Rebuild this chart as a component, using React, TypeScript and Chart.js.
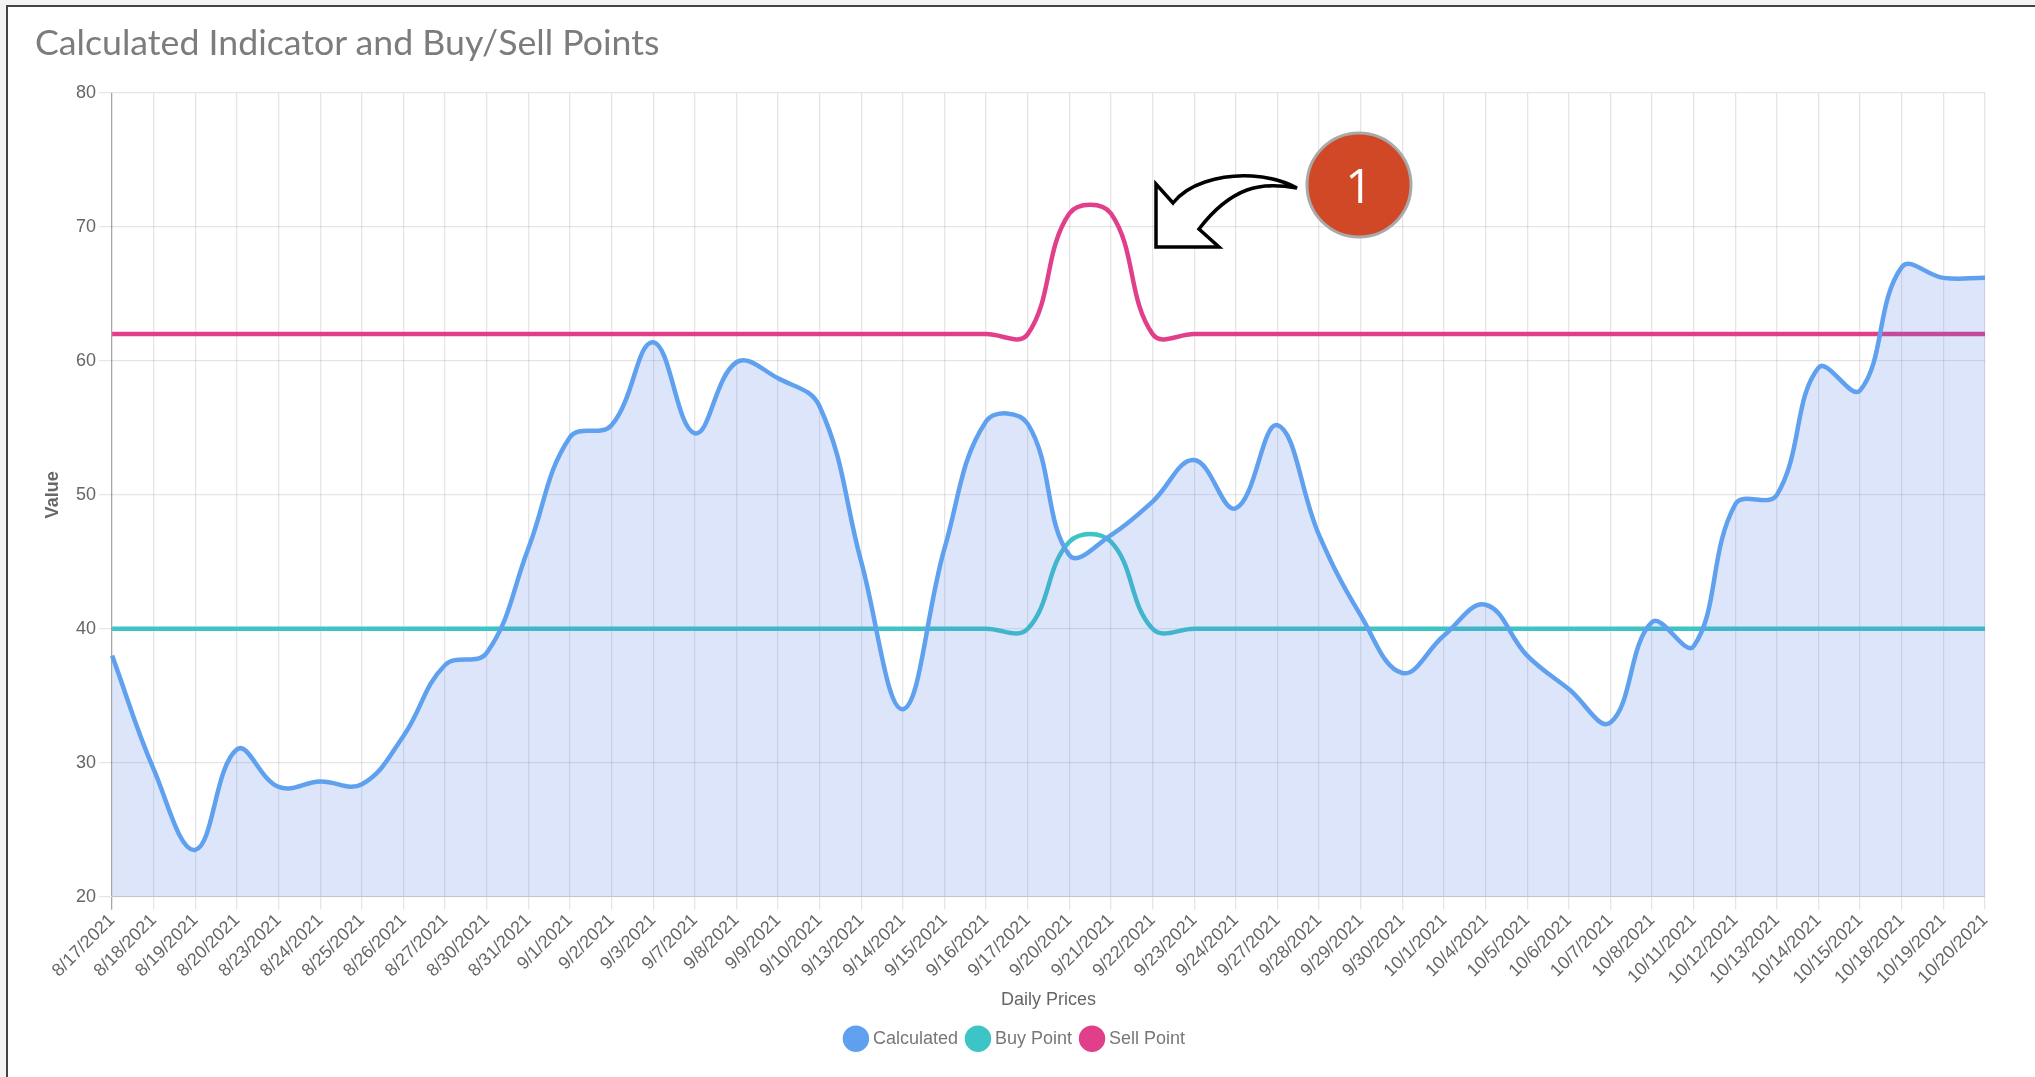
import React, { useEffect, useRef } from "react";
import { Chart, registerables } from "chart.js";

Chart.register(...registerables);

const labels = ["8/17/2021","8/18/2021","8/19/2021","8/20/2021","8/23/2021","8/24/2021","8/25/2021","8/26/2021","8/27/2021","8/30/2021","8/31/2021","9/1/2021","9/2/2021","9/3/2021","9/7/2021","9/8/2021","9/9/2021","9/10/2021","9/13/2021","9/14/2021","9/15/2021","9/16/2021","9/17/2021","9/20/2021","9/21/2021","9/22/2021","9/23/2021","9/24/2021","9/27/2021","9/28/2021","9/29/2021","9/30/2021","10/1/2021","10/4/2021","10/5/2021","10/6/2021","10/7/2021","10/8/2021","10/11/2021","10/12/2021","10/13/2021","10/14/2021","10/15/2021","10/18/2021","10/19/2021","10/20/2021"];
const calculated = [38,29.5,23.5,31,28.2,28.6,28.4,32,37.3,38.2,46,54.3,55.2,61.4,54.6,59.9,58.7,56.6,45,34,46,55.5,55.3,45.5,47,49.5,52.6,49,55.2,47,41,36.7,39.5,41.8,38,35.5,33,40.5,38.7,49.3,50,59.5,57.8,67,66.2,66.2];
const buyPoint = [40,40,40,40,40,40,40,40,40,40,40,40,40,40,40,40,40,40,40,40,40,40,40,46.5,46.5,40,40,40,40,40,40,40,40,40,40,40,40,40,40,40,40,40,40,40,40,40];
const sellPoint = [62,62,62,62,62,62,62,62,62,62,62,62,62,62,62,62,62,62,62,62,62,62,62,71,71,62,62,62,62,62,62,62,62,62,62,62,62,62,62,62,62,62,62,62,62,62];

const TEXT = "#666666";
const FONT = "'Liberation Sans', Arial, sans-serif";

const nudgeLegend = {
  id: "nudgeLegend",
  afterLayout(chart: any) {
    if (chart.legend) {
      chart.legend.left += 3;
      chart.legend.right += 3;
    }
  },
};

export default function App() {
  const ref = useRef<HTMLCanvasElement | null>(null);
  useEffect(() => {
    if (!ref.current) return;
    const chart = new Chart(ref.current, {
      type: "line",
      plugins: [nudgeLegend],
      data: {
        labels,
        datasets: [
          { label: "Calculated", data: calculated, borderColor: "#5fa1ee", backgroundColor: "#5fa1ee", fill: { target: "origin", above: "rgba(80,125,225,0.2)" }, borderWidth: 4.5, pointRadius: 0, tension: 0.4 },
          { label: "Buy Point", data: buyPoint, borderColor: "#3cc4c6", backgroundColor: "#3cc4c6", fill: false, borderWidth: 4.5, pointRadius: 0, tension: 0.4 },
          { label: "Sell Point", data: sellPoint, borderColor: "#e23f8a", backgroundColor: "#e23f8a", fill: false, borderWidth: 4.5, pointRadius: 0, tension: 0.4 },
        ],
      },
      options: {
        responsive: false,
        animation: false,
        layout: { padding: { left: 42, right: 50, top: 93, bottom: 19.3 } },
        plugins: {
          tooltip: { enabled: false },
          legend: {
            position: "bottom",
            labels: { usePointStyle: true, pointStyle: "circle", boxHeight: 15.5, boxWidth: 16, color: "#777", font: { family: FONT, size: 18 }, padding: 12 },
          },
        },
        scales: {
          x: {
            grid: { color: (c: any) => (c.index === 0 ? "rgba(0,0,0,0.35)" : "rgba(0,0,0,0.1)"), lineWidth: 1.3, tickLength: 13 },
            border: { display: true, color: "rgba(0,0,0,0.12)" },
            ticks: { color: TEXT, font: { family: FONT, size: 18 }, maxRotation: 45, minRotation: 45, autoSkip: false, padding: 0 },
            title: { display: true, text: "Daily Prices", color: TEXT, font: { family: FONT, size: 18 }, padding: { top: 0.4, bottom: 7 } },
          },
          y: {
            min: 20,
            max: 80,
            grid: { color: "rgba(0,0,0,0.1)", lineWidth: 1.3, tickLength: 13 },
            border: { display: false },
            ticks: { color: TEXT, font: { family: FONT, size: 18 }, stepSize: 10, padding: 3 },
            title: { display: true, text: "Value", color: TEXT, font: { family: FONT, size: 18, weight: "bold" }, padding: { top: 0, bottom: 9.5 } },
          },
        },
      },
    } as any);
    return () => chart.destroy();
  }, []);

  return (
    <div style={{ position: "absolute", left: 0, top: 0, width: 2035, height: 1077, background: "#f4f4f4", overflow: "hidden" }}>
      <div style={{ position: "absolute", left: 6, top: 5, width: 2029, height: 1072, background: "#fff", borderLeft: "2px solid #444", borderTop: "2px solid #444", boxSizing: "border-box" }} />
      <canvas ref={ref} width={2035} height={1077} style={{ position: "absolute", left: 0, top: 0, display: "block" }} />
      <div style={{ position: "absolute", left: 35, top: 20, fontFamily: "Lato", fontSize: 35.7, color: "#7c7c7c", whiteSpace: "nowrap", lineHeight: "44px" }}>Calculated Indicator and Buy/Sell Points</div>
      <svg width={2035} height={1077} style={{ position: "absolute", left: 0, top: 0 }}>
        <path d="M1297 188 C1270 174 1235 172 1205 182 C1190 187 1180 194 1173 203 L1156 184 L1156 247 L1219 247 L1199 229 C1212 212 1228 197 1247 190 C1260 185 1275 184 1297 188 Z" fill="#fff" stroke="#000" strokeWidth="3.5" strokeLinejoin="miter" />
        <circle cx="1359" cy="185" r="52" fill="#d04825" stroke="#a9a9a9" strokeWidth="3" />
        <text x="1359" y="203" textAnchor="middle" fontFamily="'Open Sans'" fontWeight="400" fontSize="48" fill="#fff">1</text>
      </svg>
    </div>
  );
}
